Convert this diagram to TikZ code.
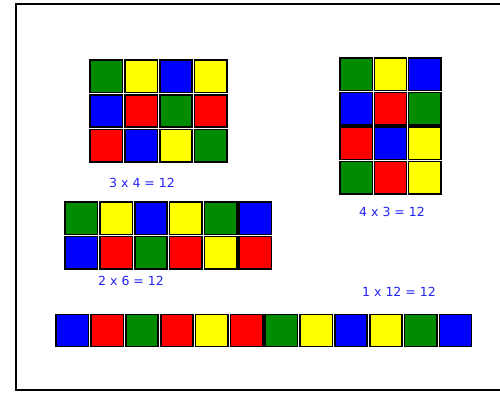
\documentclass[tikz,border=0pt]{standalone}
\usepackage{fontspec}
\setmainfont{DejaVu Sans}
\definecolor{cG}{RGB}{0,140,0}
\definecolor{cY}{RGB}{255,255,0}
\definecolor{cB}{RGB}{0,0,255}
\definecolor{cR}{RGB}{255,0,0}
\definecolor{txt}{RGB}{35,35,245}
\begin{document}
\begin{tikzpicture}[x=1pt,y=-1pt,
  cell/.style={draw=black,line width=1.6pt,minimum size=32.3pt,inner sep=0pt,outer sep=0pt},
  lbl/.style={text=txt,font=\fontsize{12.5}{14}\selectfont,inner sep=0pt},
  frame/.style={draw=black,line width=2.2pt}]
\useasboundingbox (0,0) rectangle (500,392);
\fill[white] (0,0) rectangle (500,392);
\draw[frame] (501,4) -- (16,4) -- (16,390) -- (501,390);
% 3 x 4
\foreach \row [count=\r from 0] in {{cG,cY,cB,cY},{cB,cR,cG,cR},{cR,cB,cY,cG}}
  \foreach \col [count=\c from 0] in \row
    \node[cell,fill=\col] (a-\r-\c) at ({106.4+34.75*\c},{76.3+34.7*\r}) {};
\node[lbl] (la) at (142,183) {3 x 4 = 12};
% 4 x 3
\foreach \row [count=\r from 0] in {{cG,cY,cB},{cB,cR,cG},{cR,cB,cY},{cG,cR,cY}}
  \foreach \col [count=\c from 0] in \row
    \node[cell,fill=\col] (b-\r-\c) at ({356.2+34.3*\c},{74.2+34.5*\r}) {};
\node[lbl] (lb) at (392,212) {4 x 3 = 12};
% 2 x 6
\foreach \row [count=\r from 0] in {{cG,cY,cB,cY,cG,cB},{cB,cR,cG,cR,cY,cR}}
  \foreach \col [count=\c from 0] in \row
    \node[cell,fill=\col] (d-\r-\c) at ({81.4+34.8*\c},{218.2+34.5*\r}) {};
\node[lbl] (ld) at (131,281) {2 x 6 = 12};
% 1 x 12
\foreach \col [count=\c from 0] in {cB,cR,cG,cR,cY,cR,cG,cY,cB,cY,cG,cB}
  \node[cell,fill=\col] (e-\c) at ({72.4+34.83*\c},330.5) {};
\node[lbl] (le) at (399,292) {1 x 12 = 12};
\end{tikzpicture}
\end{document}
